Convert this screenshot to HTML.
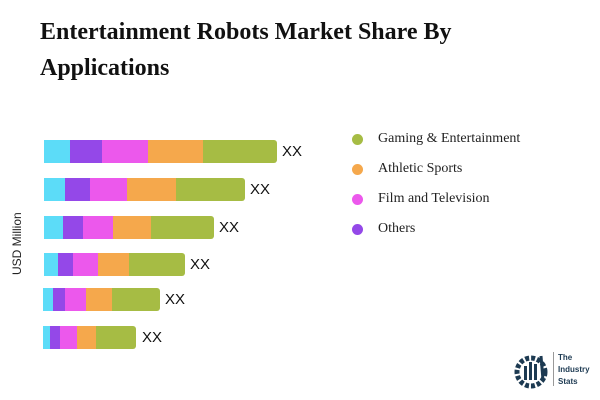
<!DOCTYPE html>
<html><head><meta charset="utf-8"><style>
body{margin:0;width:600px;height:400px;background:#fff;position:relative;overflow:hidden;font-family:"Liberation Sans",sans-serif}
h1{position:absolute;left:40px;top:14px;margin:0;font:bold 24px/36px "Liberation Serif",serif;color:#111;width:520px}
.b{position:absolute;height:23px;display:flex;border-radius:0 3px 3px 0;overflow:hidden}
.b div{height:100%}
.x{position:absolute;font-size:15px;color:#111}
.lg{position:absolute;left:352px;font:14px "Liberation Serif",serif;color:#222}
.lg span{position:absolute;left:0;top:3px;width:11px;height:11px;border-radius:50%}
</style></head><body>
<h1>Entertainment Robots Market Share By Applications</h1>
<div style="position:absolute;left:10px;top:275px;transform:rotate(-90deg);transform-origin:0 0;font-size:12px;color:#222">USD Million</div>
<div id="c"></div>
<div class="lg" style="top:131px"><span style="background:#a6bc44"></span><b style="font-weight:normal;margin-left:26px">Gaming &amp; Entertainment</b></div>
<div class="lg" style="top:161px"><span style="background:#f5a84c"></span><b style="font-weight:normal;margin-left:26px">Athletic Sports</b></div>
<div class="lg" style="top:191px"><span style="background:#ec58ec"></span><b style="font-weight:normal;margin-left:26px">Film and Television</b></div>
<div class="lg" style="top:221px"><span style="background:#9448e8"></span><b style="font-weight:normal;margin-left:26px">Others</b></div>
<svg style="position:absolute;left:513px;top:350px" width="40" height="40" viewBox="0 0 40 40"><circle cx="18" cy="22" r="14" fill="none" stroke="#1d3a52" stroke-width="5" stroke-dasharray="4 2"/><rect x="11" y="16" width="3" height="14" fill="#1d3a52"/><rect x="16" y="12" width="3" height="18" fill="#1d3a52"/><rect x="21" y="14" width="3" height="16" fill="#1d3a52"/><path d="M28 6 L30 30" stroke="#1d3a52" stroke-width="3"/></svg>
<div style="position:absolute;left:553px;top:352px;width:1px;height:34px;background:#999"></div>
<div style="position:absolute;left:558px;top:352px;font:bold 8px/12px 'Liberation Sans',sans-serif;color:#1d3a52">The<br>Industry<br>Stats</div>
<script>
var d=[[140,44,[70,102,148,203,277],282],[178,44,[65,90,127,176,245],250],[216,44,[63,83,113,151,214],219],[253,44,[58,73,98,129,185],190],[288,43,[53,65,86,112,160],165],[326,43,[50,60,77,96,136],142]];
var col=['#5cdcf8','#9448e8','#ec58ec','#f5a84c','#a6bc44'],h='';
d.forEach(function(r){var p=r[1],s='';r[2].forEach(function(e,i){s+='<div style="width:'+(e-p)+'px;background:'+col[i]+'"></div>';p=e});
h+='<div class="b" style="left:'+r[1]+'px;top:'+r[0]+'px">'+s+'</div><div class="x" style="left:'+r[3]+'px;top:'+(r[0]+3)+'px">XX</div>';});
document.getElementById('c').innerHTML=h;
</script>
</body></html>
